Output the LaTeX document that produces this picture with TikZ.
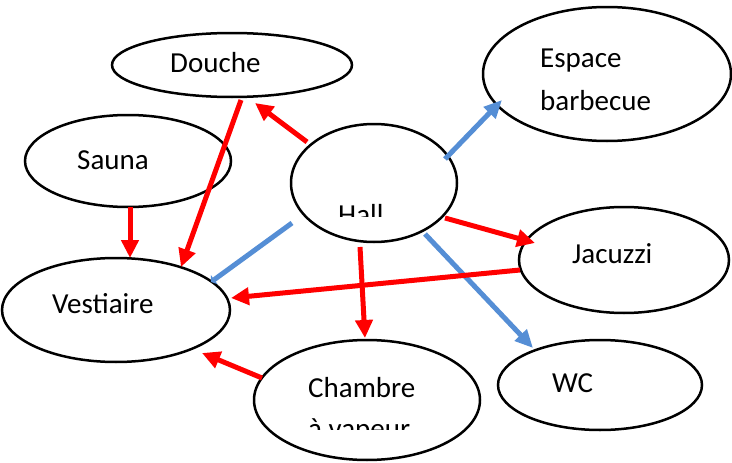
\documentclass[tikz,border=0pt]{standalone}
\usepackage{fontspec}
\setmainfont{Carlito}
\usetikzlibrary{shapes.geometric,arrows.meta,calc}
\definecolor{arrred}{RGB}{255,0,0}
\definecolor{arrblue}{RGB}{85,142,213}
\begin{document}
\begin{tikzpicture}[x=1pt,y=1pt,
 room/.style={draw=black, line width=2.5pt, fill=white, ellipse, inner sep=0pt, outer sep=0pt},
 lbl/.style={anchor=base west, inner sep=0pt, font=\fontsize{29}{42}\selectfont},
 redarr/.style={draw=arrred, line width=5pt, -{Triangle[length=18pt,width=17pt]}},
 bluearr/.style={draw=arrblue, line width=5pt, -{Triangle[length=18pt,width=16pt]}},
 bluesmall/.style={draw=arrblue, line width=5pt, -{Triangle[length=4pt,width=11pt]}}]
\useasboundingbox (0,0) rectangle (732,-463);
% rooms
\node[room, minimum width=240pt, minimum height=64pt] (douche) at (232,-65) {};
\node[room, minimum width=206pt, minimum height=92pt] (sauna) at (128,-161) {};
\node[room, minimum width=228pt, minimum height=104pt] (vest) at (116,-310) {};
\node[room, minimum width=166pt, minimum height=118pt] (hall) at (374,-183) {};
\node[room, minimum width=248pt, minimum height=134pt] (bbq) at (607,-74) {};
\node[room, minimum width=210pt, minimum height=106pt] (jac) at (624,-260) {};
\node[room, minimum width=204pt, minimum height=90pt] (wc) at (600,-385) {};
\node[room, minimum width=226pt, minimum height=120pt] (chambre) at (367,-400) {};
% labels
\node[lbl] (tdouche) at (170,-72) {Douche};
\node[lbl] (tsauna) at (77,-169) {Sauna};
\node[lbl] (tvest) at (52,-313) {Vestiaire};
\node[lbl] (tbbq1) at (540,-67) {Espace};
\node[lbl] (tbbq2) at (540,-110) {barbecue};
\node[lbl] (tjac) at (572,-263) {Jacuzzi};
\node[lbl] (twc) at (552,-392) {WC};
\node[lbl] (tch1) at (308,-397) {Chambre};
\begin{scope}
\clip (280,-124) rectangle (460,-216);
\node[lbl] (thall) at (338,-224) {Hall};
\end{scope}
\begin{scope}
\clip (260,-400) rectangle (470,-429);
\node[lbl] (tch2) at (308,-438) {à vapeur};
\end{scope}
% connectors
\draw[bluearr] ($(hall)+(51,-51)$) -- ($(wc)+(-67,37)$);
\draw[bluearr] ($(hall)+(71,24)$) -- ($(bbq)+(-105,-26)$);
\draw[bluesmall] ($(hall)+(-82,-40)$) -- ($(vest)+(95,28)$);
\draw[redarr] ($(hall)+(-67,41)$) -- ($(douche)+(23,-38)$);
\draw[redarr] ($(douche)+(9,-35)$) -- ($(vest)+(65,43)$);
\draw[redarr] ($(sauna)+(2,-46)$) -- ($(vest)+(14,52)$);
\draw[redarr] ($(jac)+(-104,-10)$) -- ($(vest)+(115,12)$);
\draw[redarr] ($(hall)+(71,-35)$) -- ($(jac)+(-89,17)$);
\draw[redarr] ($(hall)+(-14,-64)$) -- ($(chambre)+(-2,62)$);
\draw[redarr] ($(chambre)+(-105,22)$) -- ($(vest)+(86,-43)$);
\end{tikzpicture}
\end{document}
